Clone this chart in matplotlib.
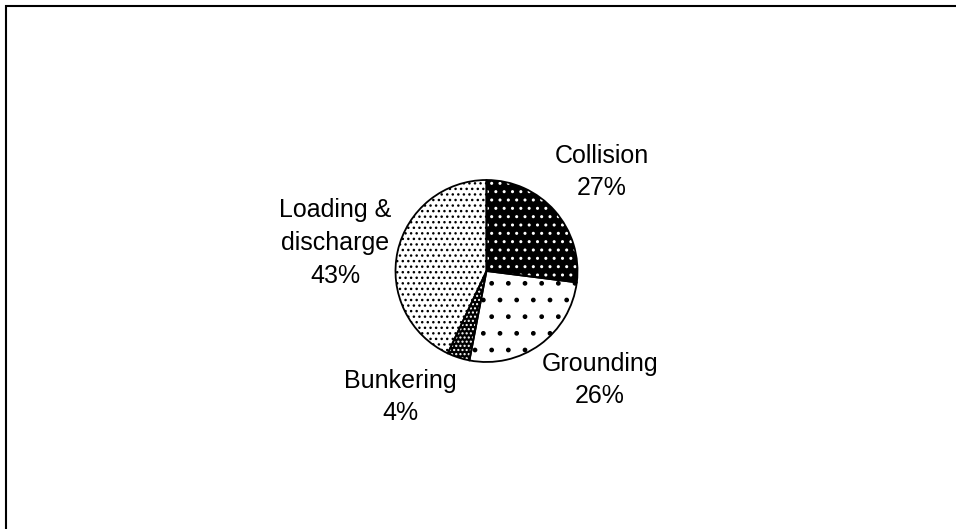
import matplotlib
matplotlib.use("Agg")
import matplotlib.pyplot as plt
from matplotlib.patches import Rectangle

plt.rcParams['font.family'] = ['Liberation Sans', 'DejaVu Sans']
plt.rcParams['hatch.linewidth'] = 1.0

# data
labels = ["Collision", "Grounding", "Bunkering", "Loading &\ndischarge"]
shares = [27, 26, 4, 43]

# styling per slice: face, hatch, dot colour
faces = ["black", "white", "black", "white"]
hatches = ["..", ".", "....", "..."]
dot_colors = ["white", "black", "white", "black"]

# label centres in pixels (x, y from top)
label_pos = [(602, 172), (600, 380), (400, 397), (335, 243)]

W, H = 956, 529
fig = plt.figure(figsize=(W / 100, H / 100), dpi=100)
ax = fig.add_axes([0, 0, 1, 1])

center = (486.5, H - 271)
radius = 91

# filled + dotted slices
wedges, _ = ax.pie(shares, colors=faces, hatch=hatches, startangle=90,
                   counterclock=False, center=center, radius=radius,
                   frame=True, wedgeprops=dict(linewidth=0))
for w, c in zip(wedges, dot_colors):
    w.set_edgecolor(c)
    w.set_linewidth(0)

# outlines on top
ax.pie(shares, startangle=90, counterclock=False, center=center,
       radius=radius, frame=True,
       wedgeprops=dict(fill=False, edgecolor="black", linewidth=1.3))

for lab, val, (x, y) in zip(labels, shares, label_pos):
    ax.text(x, H - y, f"{lab}\n{val}%", ha="center", va="center",
            multialignment="center", fontsize=18, linespacing=1.45)

# chart frame (runs off the right and bottom edges)
ax.add_patch(Rectangle((6, -20), W + 20, H - 6 + 20, fill=False,
                       edgecolor="black", linewidth=1.5))

ax.set_xlim(0, W)
ax.set_ylim(0, H)
ax.set_aspect("equal")
ax.axis("off")

plt.savefig("out.png", dpi=100)
plt.close()
